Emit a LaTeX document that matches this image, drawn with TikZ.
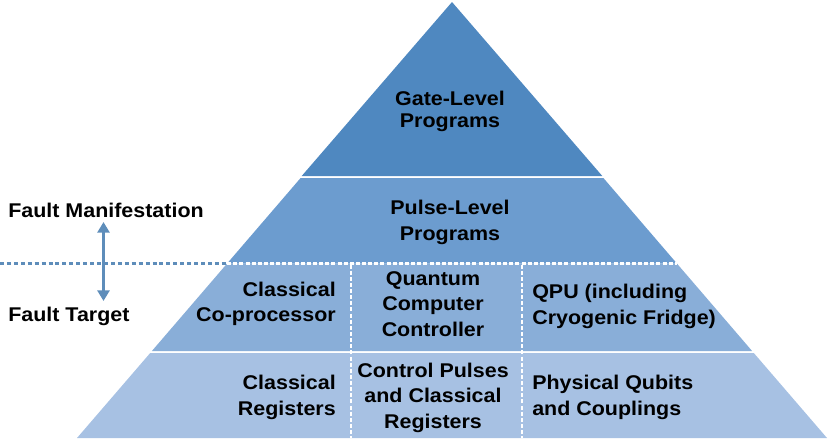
\documentclass[tikz,border=0pt]{standalone}
\usepackage{fontspec}
\setmainfont{Liberation Sans}[FakeStretch=1.08]
\usetikzlibrary{arrows.meta}
\definecolor{tone}{HTML}{4F88C0}
\definecolor{ttwo}{HTML}{6C9CCF}
\definecolor{tthree}{HTML}{89AED8}
\definecolor{tfour}{HTML}{A7C1E3}
\definecolor{guide}{HTML}{5E8DBA}
\begin{document}
\begin{tikzpicture}[x=0.75pt,y=-0.75pt,
  lab/.style={font=\fontsize{14.9pt}{18.9pt}\selectfont\bfseries, inner sep=0pt, text=black},
  cellsep/.style={draw=white, line width=1.6pt, dash pattern=on 3pt off 1.6pt},
  guideline/.style={draw=guide, line width=2.2pt, dash pattern=on 3pt off 2.2pt}]
\useasboundingbox (0,0) rectangle (830,440);
% tiers
\fill[tone] (452,2) -- (602.3,176) -- (301.7,176) -- cycle;
\fill[ttwo] (300.6,178) -- (603.4,178) -- (676.9,263.5) -- (227.1,263.5) -- cycle;
\fill[tthree] (227.1,263.5) -- (676.9,263.5) -- (752.1,351) -- (151.9,351) -- cycle;
\fill[tfour] (150.2,353) -- (753.8,353) -- (827,438) -- (77,438) -- cycle;
% separators
\coordinate (sl) at (227.1,263.5);
\coordinate (sr) at (676.9,263.5);
\coordinate (g0) at (0,263.5);
\draw[cellsep] (sl) -- (sr);
\draw[guideline] (g0) -- (sl);
\coordinate (va) at (351,264.5);
\coordinate (vb) at (351,438);
\coordinate (vc) at (522,264.5);
\coordinate (vd) at (522,438);
\draw[cellsep] (va) -- (vb);
\draw[cellsep] (vc) -- (vd);
% labels
\node[lab, align=center, anchor=base] (gate) at (450,127.7) {Gate-Level\\[-2.5pt]Programs};
\node[lab, align=center, anchor=base] (pulse) at (450,240) {Pulse-Level\\Programs};
\node[lab, align=right, anchor=base east] (cop) at (336,321.7) {Classical\\Co-processor};
\node[lab, align=center, anchor=base] (qcc) at (433,336) {Quantum\\Computer\\Controller};
\node[lab, align=left, anchor=base west] (qpu) at (532,324) {QPU (including\\Cryogenic Fridge)};
\node[lab, align=right, anchor=base east] (creg) at (336,415) {Classical\\Registers};
\node[lab, align=center, anchor=base] (cpr) at (433,428) {Control Pulses\\and Classical\\Registers};
\node[lab, align=left, anchor=base west] (phq) at (532,415) {Physical Qubits\\and Couplings};
\node[lab, anchor=base west] (fm) at (8,217) {Fault Manifestation};
\node[lab, anchor=base west] (ft) at (8,321.7) {Fault Target};
% arrow
\coordinate (atop) at (103.5,222);
\coordinate (abot) at (103.5,301);
\draw[guide, line width=2.4pt, {Triangle[width=9pt,length=8pt]}-{Triangle[width=9pt,length=8pt]}] (atop) -- (abot);
\end{tikzpicture}
\end{document}
